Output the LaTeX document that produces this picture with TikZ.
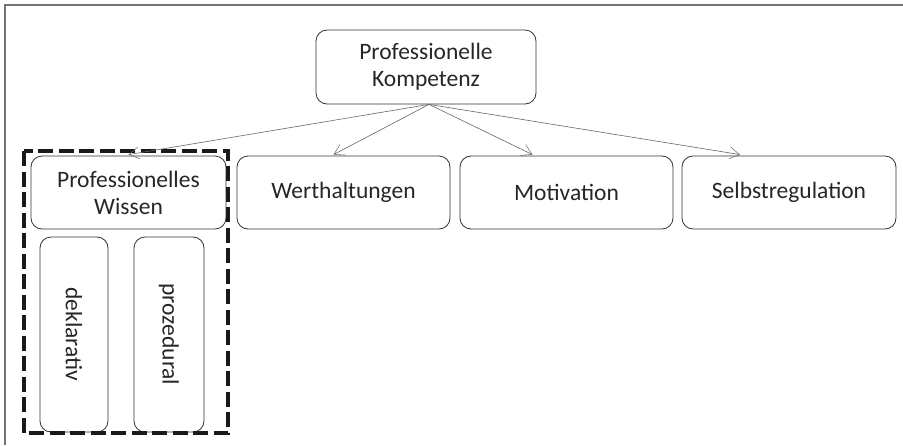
\documentclass[tikz,border=0pt]{standalone}
\usepackage{fontspec}
\setmainfont{Carlito}
\usepackage{xcolor}
\usetikzlibrary{positioning,calc,arrows.meta}

\begin{document}
\begin{tikzpicture}[
	x=1pt, y=-1pt, % Pixel-Koordinaten wie im Bild
	box/.style={
		draw=black!80,          % dunkler Rand
		line width=0.8pt,
		rounded corners=11pt,
		minimum height=73pt,
		align=center,
		text=black!85,
		font=\fontsize{23.5}{27}\selectfont,
		anchor=center
	},
	subbox/.style={             % senkrechte Kaestchen
		box,
		rotate=-90
	},
	pfeil/.style={              % duenne Pfeile mit offener Spitze
		-{Straight Barb[length=10pt,width=12pt,line width=0.5pt]},
		black!60, line width=0.6pt
	},
	rahmen/.style={             % dicker gestrichelter Rahmen
		draw=black!90, line width=4.5pt,
		dash pattern=on 15pt off 5.5pt
	}
	]
	\useasboundingbox (0,0) rectangle (903,445);
	% --- Bildrahmen (oben und links) ---
	\draw[black!55, line width=1.3pt] (903,5) -- (5,5) -- (5,445);
	
	% --- OBERSTER KNOTEN ---
	\node[box, minimum width=220pt, minimum height=74pt] (kompetenz) at (426, 67) {Professionelle\\Kompetenz};
	
	% --- ZWEITE REIHE ---
	\node[box, minimum width=195pt] (wissen) at (128.5, 192.5) {Professionelles\\Wissen};
	\node[box, minimum width=213pt] (wert) at (343.5, 192.5) {Werthaltungen};
	\node[box, minimum width=213pt] (motiv) at (566.5, 192.5) {Motivation};
	\node[box, minimum width=214pt] (selbst) at (789, 192.5) {Selbstregulation};
	
	% --- UNTERKNOTEN (gedrehter Text) ---
	\node[subbox, minimum height=68pt, minimum width=195pt] (dekl) at (74, 334.5) {deklarativ};
	\node[subbox, minimum height=70pt, minimum width=195pt] (proz) at (169, 334.5) {prozedural};
	
	% Gestrichelter Rahmen um das Wissen
	\draw[rahmen] (24, 151) rectangle (228, 433);
	
	% --- PFEILE ---
	\draw[pfeil] ([xshift=3pt]kompetenz.south) -- ([yshift=1pt]wissen.north);
	\draw[pfeil] ([xshift=3pt]kompetenz.south) -- ([xshift=-10pt, yshift=1pt]wert.north);
	\draw[pfeil] ([xshift=3pt]kompetenz.south) -- ([xshift=-34pt, yshift=1pt]motiv.north);
	\draw[pfeil] ([xshift=3pt]kompetenz.south) -- ([xshift=-49pt, yshift=1pt]selbst.north);
	
\end{tikzpicture}
\end{document}
